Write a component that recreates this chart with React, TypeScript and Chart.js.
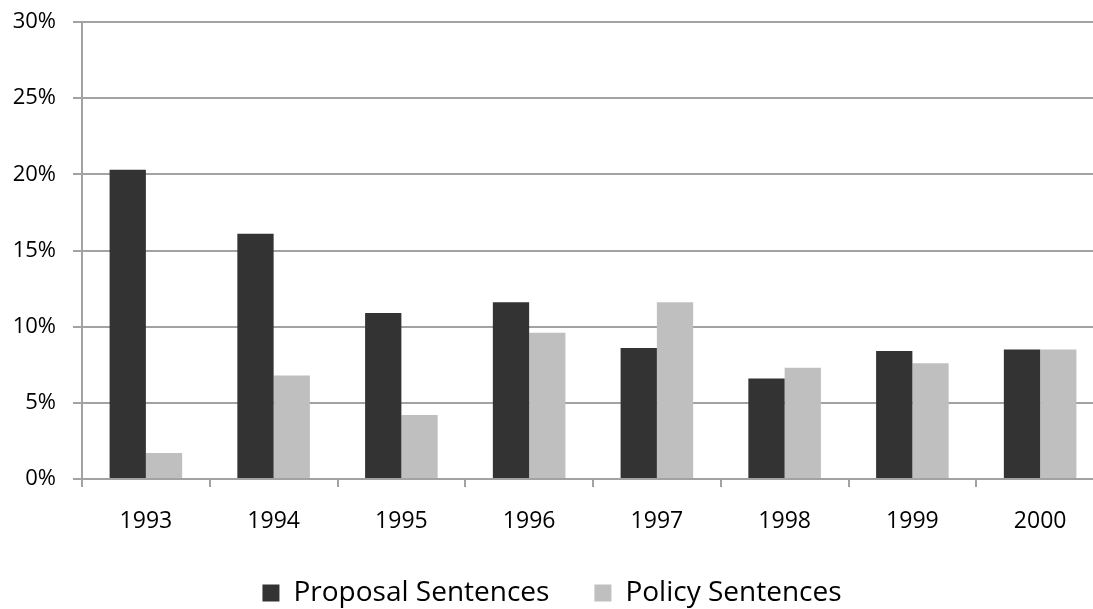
import React, { useEffect, useRef } from "react";
import { Chart, registerables } from "chart.js";

Chart.register(...registerables);

const years = ["1993", "1994", "1995", "1996", "1997", "1998", "1999", "2000"];
const proposalSentences = [20.3, 16.1, 10.9, 11.6, 8.6, 6.6, 8.4, 8.5];
const policySentences = [1.7, 6.8, 4.2, 9.6, 11.6, 7.3, 7.6, 8.5];
const seriesNames = ["Proposal Sentences", "Policy Sentences"];

const FONT = "'Open Sans', 'Liberation Sans', sans-serif";
const GRID = "#a2a2a2";

export default function App() {
  const ref = useRef<HTMLCanvasElement | null>(null);

  useEffect(() => {
    if (!ref.current) return;
    const chart = new Chart(ref.current, {
      type: "bar",
      data: {
        labels: years,
        datasets: [
          {
            label: seriesNames[0],
            data: proposalSentences,
            backgroundColor: "#333333",
            borderWidth: 0,
          },
          {
            label: seriesNames[1],
            data: policySentences,
            backgroundColor: "#bfbfbf",
            borderWidth: 0,
          },
        ],
      },
      options: {
        animation: false,
        responsive: true,
        maintainAspectRatio: false,
        layout: { padding: { top: 22, right: 6, left: 0, bottom: -8 } },
        datasets: {
          bar: { categoryPercentage: 0.568, barPercentage: 1 },
        },
        plugins: {
          tooltip: { enabled: false },
          legend: {
            position: "bottom",
            labels: {
              boxWidth: 17,
              boxHeight: 17,
              padding: 45,
              color: "#000",
              font: { family: FONT, size: 28 },
            },
          },
        },
        scales: {
          x: {
            offset: true,
            grid: {
              display: true,
              offset: true,
              drawOnChartArea: false,
              drawTicks: true,
              tickLength: 8,
              lineWidth: 2,
              color: GRID,
            },
            border: { display: true, color: GRID, width: 2 },
            ticks: {
              color: "#000",
              padding: 21,
              font: { family: FONT, size: 23 },
              maxRotation: 0,
            },
            afterFit: (scale: any) => {
              scale.height = 55;
            },
          },
          y: {
            min: 0,
            max: 30,
            ticks: {
              stepSize: 5,
              color: "#000",
              padding: 17,
              font: { family: FONT, size: 22 },
              callback: (v: any) => v + "%",
            },
            grid: {
              color: GRID,
              lineWidth: 2,
              drawTicks: true,
              tickLength: 9,
            },
            border: { display: true, color: GRID, width: 2 },
            afterFit: (scale: any) => {
              scale.width = 82;
              scale.paddingTop = 0;
              scale.paddingBottom = 0;
            },
          },
        },
      },
    });
    return () => chart.destroy();
  }, []);

  return (
    <div
      style={{
        position: "absolute",
        left: 0,
        top: 0,
        width: 1093,
        height: 609,
        overflow: "hidden",
        background: "#fff",
      }}
    >
      <div style={{ position: "relative", width: 1110, height: 609 }}>
        <canvas ref={ref} />
      </div>
    </div>
  );
}
